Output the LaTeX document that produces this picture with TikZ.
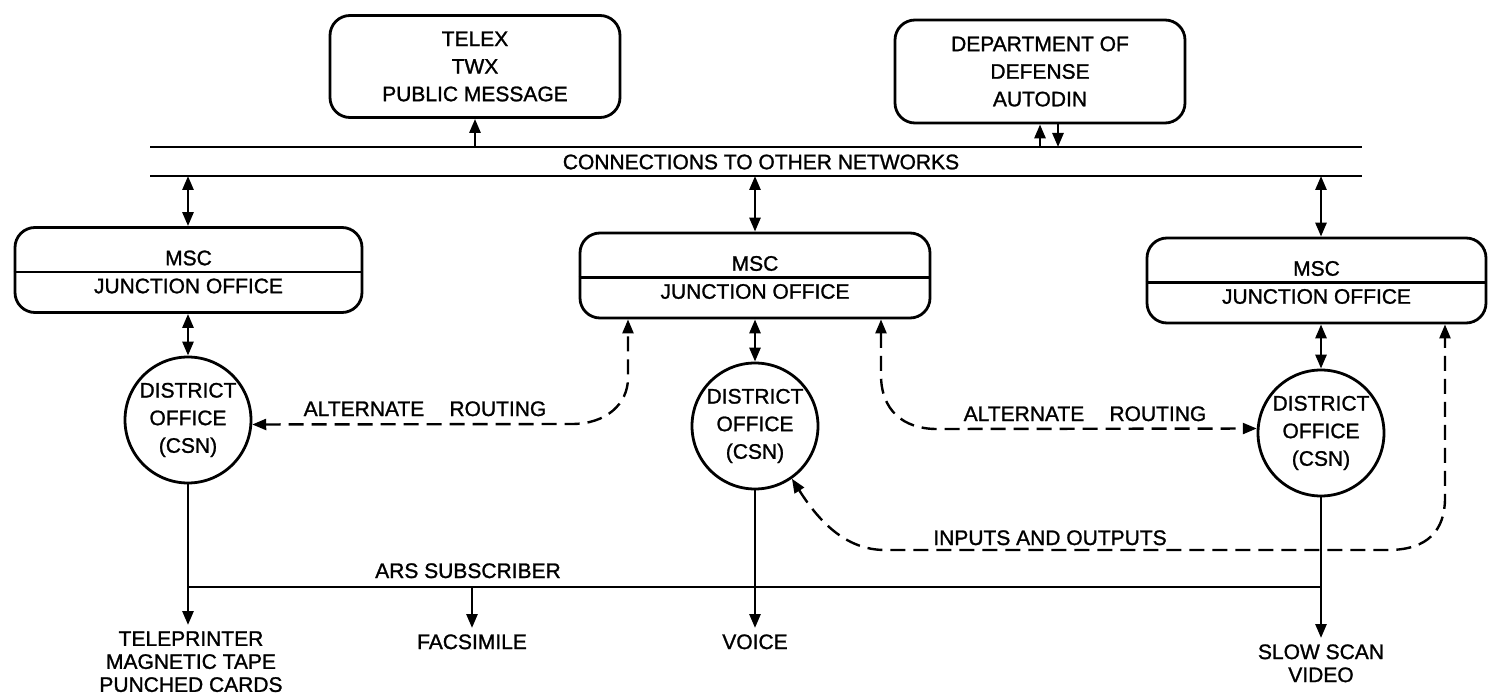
\documentclass[tikz,border=0pt]{standalone}
\usepackage{fontspec}
\setmainfont{Liberation Sans}[FakeBold=1.2]
\usetikzlibrary{arrows.meta,calc}
\begin{document}
\begin{tikzpicture}[x=0.5pt,y=-0.5pt,
  every node/.style={font=\fontsize{10.5}{13.8}\selectfont},
  ln/.style={line width=1.35pt},
  oneway/.style={-{Triangle[length=7pt,width=5.5pt]}},
  twoway/.style={{Triangle[length=7pt,width=5.5pt]}-{Triangle[length=7pt,width=5.5pt]}},
  netbox/.style={draw, line width=1.4pt, rounded corners=10pt, minimum width=145pt,
                 minimum height=51pt, align=center, inner sep=0pt},
  mscbox/.style={draw, line width=1.4pt, rounded corners=10pt, minimum height=42.5pt, inner sep=0pt},
  office/.style={draw, circle, line width=1.4pt, minimum size=63pt, inner sep=0pt, align=center},
  routing/.style={line width=1.2pt, dash pattern=on 7.5pt off 4pt},
  lbl/.style={align=center, inner sep=3pt, font=\fontsize{10.5}{11.5}\selectfont},
]
\fill[white] (0,0) rectangle (1489,695);
\useasboundingbox (0,0) rectangle (1489,695);

% outside networks
\node[netbox] (telex) at (475,66.5) {TELEX\\TWX\\PUBLIC MESSAGE};
\node[netbox, minimum height=51.5pt] (dod) at (1040,71.5) {DEPARTMENT OF\\DEFENSE\\AUTODIN};

% interconnection bus
\coordinate (busAL) at (150,147);
\coordinate (busAR) at (1362,147);
\coordinate (busBL) at (150,176);
\coordinate (busBR) at (1362,176);
\draw[ln] (busAL) -- (busAR);
\draw[ln] (busBL) -- (busBR);
\node (conn) at (761,162) {CONNECTIONS TO OTHER NETWORKS};

\draw[ln,oneway] (telex.south |- busAL) -- (telex.south);
\draw[ln,oneway] (dod.south |- busAL) -- (dod.south);
\draw[ln,oneway] ([xshift=9pt]dod.south) -- ([xshift=9pt]dod.south |- busAL);

% message switching centres
\node[mscbox, minimum width=173.5pt] (msc1) at (188.5,270) {};
\node[mscbox, minimum width=175pt]   (msc2) at (755,275.5) {};
\node[mscbox, minimum width=169.5pt] (msc3) at (1316.5,280.5) {};
\foreach \m in {msc1,msc2,msc3}{
  \draw[ln] ($(\m.west)+(0,2)$) -- ($(\m.east)+(0,2)$);
  \node (\m top) at ($(\m.center)+(0,-12)$) {MSC};
  \node (\m bot) at ($(\m.center)+(0,16)$) {JUNCTION OFFICE};
}

% district offices
\node[office] (c1) at (188,420) {DISTRICT\\OFFICE\\(CSN)};
\node[office] (c2) at (755,426) {DISTRICT\\OFFICE\\(CSN)};
\node[office] (c3) at (1321,433) {DISTRICT\\OFFICE\\(CSN)};

\draw[ln,twoway] (c1 |- busBL) -- (c1 |- msc1.north);
\draw[ln,twoway] (c2 |- busBL) -- (c2 |- msc2.north);
\draw[ln,twoway] (c3 |- busBL) -- (c3 |- msc3.north);
\draw[ln,twoway] (c1 |- msc1.south) -- (c1.north);
\draw[ln,twoway] (c2 |- msc2.south) -- (c2.north);
\draw[ln,twoway] (c3 |- msc3.south) -- (c3.north);

% alternate routing and inputs/outputs
\coordinate (ra) at (628,378);
\coordinate (rb) at (881,375);
\coordinate (rc) at (1445,498);
\draw[routing,twoway] (c1.-4) -- (572,424) .. controls (606,424) and (628,404) .. (ra) -- (ra |- msc2.south);
\draw[routing,twoway] (rb |- msc2.south) -- (rb) .. controls (881,410) and (903,429) .. (937,429) -- (c3.176);
\draw[routing,twoway] (c2.-55) .. controls (818,520) and (845,550) .. (885,550) -- (1388,550)
  .. controls (1428,550) and (1445,530) .. (rc) -- (rc |- msc3.south);
\node[anchor=base] (alt1) at (425,416) {ALTERNATE\hspace{1.2em}ROUTING};
\node[anchor=base] (alt2) at (1085,421) {ALTERNATE\hspace{1.2em}ROUTING};
\node[anchor=base] (io) at (1050,545) {INPUTS AND OUTPUTS};

% subscriber terminals
\node[lbl, anchor=north] (tele) at (191,625) {TELEPRINTER\\MAGNETIC TAPE\\PUNCHED CARDS};
\node[lbl, anchor=north] (fax) at (472,628) {FACSIMILE};
\node[lbl, anchor=north] (voice) at (755,628) {VOICE};
\node[lbl, anchor=north] (video) at (1321,638) {SLOW SCAN\\VIDEO};

\coordinate (arsY) at (0,587);
\draw[ln] (c1 |- arsY) -- (c3 |- arsY);
\node[anchor=base] (ars) at (468,578) {ARS SUBSCRIBER};

\draw[ln,oneway] (c1.south) -- (c1.south |- tele.north);
\draw[ln,oneway] (fax.north |- arsY) -- (fax.north);
\draw[ln,oneway] (c2.south) -- (voice.north);
\draw[ln,oneway] (c3.south) -- (video.north);
\end{tikzpicture}
\end{document}
